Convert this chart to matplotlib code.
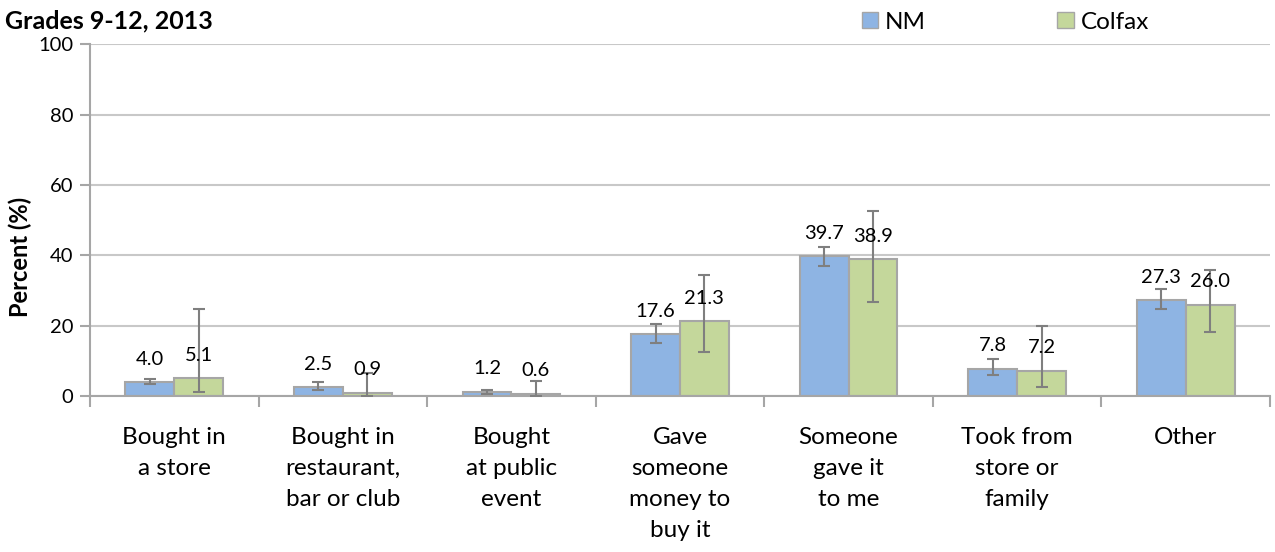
import matplotlib.pyplot as plt
import numpy as np
from matplotlib.patches import Patch

plt.rcParams['font.family'] = ['Lato', 'DejaVu Sans']

categories = ['Bought in\na store', 'Bought in\nrestaurant,\nbar or club', 'Bought\nat public\nevent',
              'Gave\nsomeone\nmoney to\nbuy it', 'Someone\ngave it\nto me', 'Took from\nstore or\nfamily', 'Other']
nm = [4.0, 2.5, 1.2, 17.6, 39.7, 7.8, 27.3]
nm_low = [3.4, 1.8, 0.7, 15.1, 37.0, 5.9, 24.6]
nm_high = [4.7, 3.9, 1.8, 20.5, 42.3, 10.4, 30.3]
colfax = [5.1, 0.9, 0.6, 21.3, 38.9, 7.2, 26.0]
colfax_low = [1.0, 0.0, 0.0, 12.5, 26.7, 2.6, 18.3]
colfax_high = [24.8, 6.4, 4.3, 34.3, 52.6, 19.9, 35.9]

nm_color = '#8eb4e3'
colfax_color = '#c4d79b'
edge = '#a6a6a6'
err_color = '#7f7f7f'

fig = plt.figure(figsize=(12.75, 5.52), dpi=100)
ax = fig.add_axes([0.0706, 0.2826, 0.9254, 0.6374])

x = np.arange(len(categories))
w = 0.29

def draw(offset, vals, low, high, color):
    vals = np.array(vals)
    yerr = [vals - np.array(low), np.array(high) - vals]
    ax.bar(x + offset, vals, w, color=color, edgecolor=edge, linewidth=1.5, zorder=2)
    ax.errorbar(x + offset, vals, yerr=yerr, fmt='none', ecolor=err_color, elinewidth=1.5,
                capsize=4, capthick=1.5, zorder=3)
    for xi, v in zip(x + offset, vals):
        ax.annotate(f'{v:.1f}', (xi, v), xytext=(0, 16.5), textcoords='offset points',
                    ha='center', va='center', fontsize=14.5, zorder=4)

draw(-w / 2, nm, nm_low, nm_high, nm_color)
draw(w / 2, colfax, colfax_low, colfax_high, colfax_color)

ax.set_xlim(-0.5, len(categories) - 0.5)
ax.set_ylim(0, 100)
ax.set_yticks([0, 20, 40, 60, 80, 100])
ax.yaxis.grid(True, color='#c8c8c8', linewidth=1.5, zorder=0)
ax.set_axisbelow(True)

ax.set_xticks(x)
ax.set_xticklabels(categories, fontsize=17.5, linespacing=1.6, va='top')
ax.tick_params(axis='x', length=0, pad=22)
ax.set_xticks(np.arange(len(categories) + 1) - 0.5, minor=True)
ax.tick_params(axis='x', which='minor', length=8, width=1.5, color='#a6a6a6', direction='out')
ax.tick_params(axis='y', labelsize=14.5, length=7, width=1.5, color='#a6a6a6', pad=5)

for s in ['top', 'right']:
    ax.spines[s].set_visible(False)
for s in ['left', 'bottom']:
    ax.spines[s].set_color('#a6a6a6')
    ax.spines[s].set_linewidth(1.5)

ax.set_ylabel('Percent (%)', fontsize=17, fontweight='bold')
ax.yaxis.set_label_coords(-0.049, 0.395)

fig.text(0.004, 0.963, 'Grades 9-12, 2013', fontsize=18, fontweight='bold', va='center', ha='left')

handles = [Patch(facecolor=nm_color, edgecolor=edge, label='NM'),
           Patch(facecolor=colfax_color, edgecolor=edge, label='Colfax')]
fig.legend(handles=handles, loc='center left', bbox_to_anchor=(0.676, 0.96), ncol=2, frameon=False,
           fontsize=17.5, handlelength=0.66, handleheight=0.66, handletextpad=0.3,
           columnspacing=5.4, borderpad=0, borderaxespad=0)

fig.savefig('out.png', dpi=100)
